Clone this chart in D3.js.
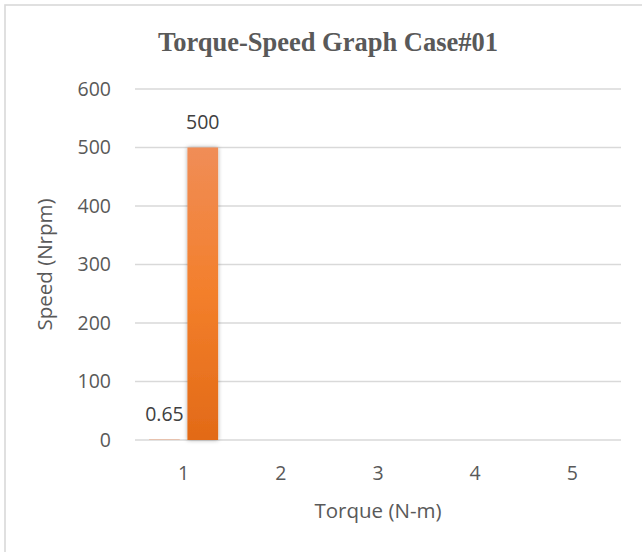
<!DOCTYPE html>
<html>
<head>
<meta charset="utf-8">
<script src="https://cdn.jsdelivr.net/npm/d3@7"></script>
<style>
  html, body { margin: 0; padding: 0; background: #fff; }
  svg { display: block; }
</style>
</head>
<body>
<svg id="chart" width="642" height="552"></svg>
<script>
// Torque-speed data, one cluster per torque step
const categories = ["1", "2", "3", "4", "5"];
const seriesNames = ["Torque", "Speed"];
const torqueValues = [0.65, null, null, null, null];
const speedValues = [500, null, null, null, null];
const yTicks = [0, 100, 200, 300, 400, 500, 600];

const titleText = "Torque-Speed Graph Case#01";
const xTitle = "Torque (N-m)";
const yTitle = "Speed (Nrpm)";

const W = 642, H = 552;
const plot = { left: 135, right: 621, top: 89, bottom: 440 };
const textColor = "#595959";
const gridColor = "#D9D9D9";
const uiFont = "'Open Sans', 'Noto Sans', sans-serif";
const tickSize = 19.5;
const axisTitleSize = 20.5;

const svg = d3.select("#chart");
const defs = svg.append("defs");

// Vertical gradient for the bars
const grad = defs.append("linearGradient")
  .attr("id", "barGrad").attr("x1", 0).attr("y1", 0).attr("x2", 0).attr("y2", 1);
grad.append("stop").attr("offset", "0%").attr("stop-color", "#F08D57");
grad.append("stop").attr("offset", "50%").attr("stop-color", "#F37F2B");
grad.append("stop").attr("offset", "100%").attr("stop-color", "#E26A17");

// Soft shadow around the bars
const shadow = defs.append("filter").attr("id", "barShadow")
  .attr("x", "-50%").attr("y", "-10%").attr("width", "200%").attr("height", "120%");
shadow.append("feDropShadow")
  .attr("dx", 0).attr("dy", 0).attr("stdDeviation", 2.2)
  .attr("flood-color", "#000").attr("flood-opacity", 0.35);

// Chart frame
svg.append("rect").attr("width", W).attr("height", H).attr("fill", "#fff");
svg.append("rect")
  .attr("x", 5).attr("y", 5).attr("width", 720).attr("height", 620)
  .attr("fill", "#fff").attr("stroke", gridColor).attr("stroke-width", 1.6);

// Scales
const x0 = d3.scaleBand().domain(categories)
  .range([plot.left, plot.right]).paddingInner(0.29).paddingOuter(0.145);
const x1 = d3.scaleBand().domain(seriesNames)
  .range([0, x0.bandwidth()]).paddingInner(0.2);
const y = d3.scaleLinear().domain([0, 600]).range([plot.bottom, plot.top]);

// Horizontal gridlines
svg.append("g").selectAll("line").data(yTicks).join("line")
  .attr("x1", plot.left).attr("x2", plot.right)
  .attr("y1", d => y(d)).attr("y2", d => y(d))
  .attr("stroke", gridColor).attr("stroke-width", 1.6);

// Y axis labels
const yAxis = d3.axisLeft(y).tickValues(yTicks).tickSize(0).tickPadding(0);
const gy = svg.append("g").attr("transform", `translate(${plot.left - 24},0)`).call(yAxis);
gy.select(".domain").remove();
gy.selectAll("text")
  .attr("font-family", uiFont).attr("font-size", tickSize).attr("fill", textColor);

// X axis labels
const xAxis = d3.axisBottom(x0).tickSize(0).tickPadding(0);
const gx = svg.append("g").attr("transform", `translate(0,${plot.bottom + 26})`).call(xAxis);
gx.select(".domain").remove();
gx.selectAll("text")
  .attr("font-family", uiFont).attr("font-size", tickSize).attr("fill", textColor);

// Bars
const rows = categories.map((c, i) => ({
  cat: c,
  values: [
    { key: "Torque", value: torqueValues[i] },
    { key: "Speed", value: speedValues[i] }
  ].filter(d => d.value != null)
}));

const groups = svg.append("g").selectAll("g").data(rows).join("g")
  .attr("transform", d => `translate(${x0(d.cat)},0)`);

groups.selectAll("rect").data(d => d.values).join("rect")
  .attr("x", d => x1(d.key))
  .attr("width", x1.bandwidth())
  .attr("y", d => y(d.value))
  .attr("height", d => y(0) - y(d.value))
  .attr("fill", "url(#barGrad)")
  .attr("filter", d => (y(0) - y(d.value)) > 2 ? "url(#barShadow)" : null);

// Value labels above each bar
groups.selectAll("text").data(d => d.values).join("text")
  .attr("x", d => x1(d.key) + x1.bandwidth() / 2)
  .attr("y", d => y(d.value) - 19)
  .attr("text-anchor", "middle")
  .attr("font-family", uiFont).attr("font-size", tickSize).attr("fill", "#404040")
  .text(d => d3.format("~g")(d.value));

// Title
svg.append("text")
  .attr("x", 328).attr("y", 51)
  .attr("text-anchor", "middle")
  .attr("font-family", "'Liberation Serif', 'Times New Roman', serif")
  .attr("font-weight", "bold").attr("font-size", 26.5).attr("fill", textColor)
  .text(titleText);

// Axis titles
svg.append("text")
  .attr("x", (plot.left + plot.right) / 2).attr("y", 518)
  .attr("text-anchor", "middle")
  .attr("font-family", uiFont).attr("font-size", axisTitleSize).attr("fill", textColor)
  .text(xTitle);

svg.append("text")
  .attr("transform", `translate(52,${(plot.top + plot.bottom) / 2}) rotate(-90)`)
  .attr("text-anchor", "middle")
  .attr("font-family", uiFont).attr("font-size", axisTitleSize).attr("fill", textColor)
  .text(yTitle);
</script>
</body>
</html>
